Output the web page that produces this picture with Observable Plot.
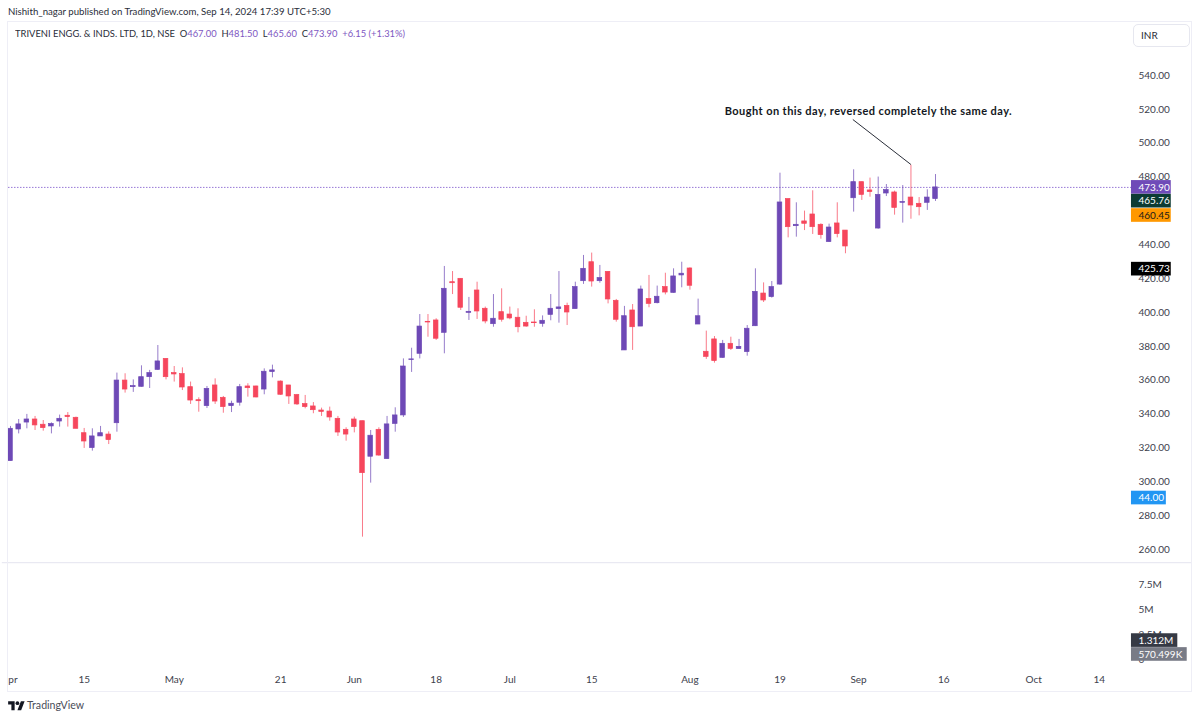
<!DOCTYPE html>
<html><head><meta charset="utf-8">
<script src="https://cdn.jsdelivr.net/npm/d3@7"></script>
<script src="https://cdn.jsdelivr.net/npm/@observablehq/plot@0.6"></script>
<style>
html,body{margin:0;padding:0;background:#fff;width:1200px;height:719px;overflow:hidden;font-family:Lato,sans-serif;color:#2a2e39}
#head{height:22px;line-height:22px;padding-left:8px;font-size:10.4px;box-sizing:border-box;white-space:nowrap;color:#2a2e39}
#head span{display:inline-block;transform:scaleX(.926);transform-origin:left center}
#chart{height:668px;position:relative}
#chart svg{display:block}
#box{position:absolute;left:7px;top:21px;width:1183px;height:669px;border:1.5px solid #eeeef6;box-sizing:content-box;pointer-events:none}
#legend{position:absolute;left:15px;top:27px;font-size:10.2px;line-height:12px;white-space:nowrap;color:#2a2e39;transform:scaleX(.92);transform-origin:left center}
#legend b{font-weight:400;color:#7e57c2}
#inr{position:absolute;left:1133px;top:24px;height:21px;border:1px solid #e6e7ef;border-radius:5px;font-size:10px;line-height:21px;padding-left:7px;box-sizing:content-box;width:48px}
#foot{position:absolute;left:8px;top:697px;height:16px;display:flex;align-items:center;font-size:10.6px;color:#4a4e5a;gap:2px}
</style></head><body>
<div id="head"><span>Nishith_nagar published on TradingView.com, Sep 14, 2024 17:39 UTC+5:30</span></div>
<div id="chart"></div>
<div id="box"></div>
<div id="legend">TRIVENI ENGG. &amp; INDS. LTD, 1D, NSE&nbsp; O<b>467.00</b>&nbsp; H<b>481.50</b>&nbsp; L<b>465.60</b>&nbsp; C<b>473.90</b>&nbsp; <b>+6.15 (+1.31%)</b></div>
<div id="inr">INR</div>
<div id="foot"><svg width="17" height="13" viewBox="0 0 36 28"><path fill="#131722" d="M14 24H7V12H0V5h14v19zM28 24h-8l7.5-19h8L28 24z"/><circle fill="#131722" cx="20" cy="9" r="4"/></svg><span>TradingView</span></div>
<script>
const opens=[312.2,330.9,335.0,336.8,333.7,332.7,335.6,339.0,337.8,328.7,319.9,326.8,327.9,334.6,359.8,355.9,356.1,361.8,366.1,372.6,364.2,363.6,355.9,348.2,344.7,356.9,349.6,344.7,346.7,356.3,356.3,354.5,364.8,359.2,356.9,351.2,345.9,344.5,342.1,341.5,337.2,330.7,336.8,335.8,314.8,330.7,313.4,334.2,339.2,371.9,375.6,394.5,395.3,388.0,417.9,419.9,399.8,413.0,402.2,393.1,400.2,398.8,396.9,393.9,394.1,393.3,398.6,402.0,403.9,402.0,418.5,429.7,418.5,424.0,406.9,377.6,401.2,391.7,407.9,405.5,415.0,411.6,421.9,426.0,392.9,376.8,384.1,373.2,381.5,378.4,376.6,391.9,411.2,409.1,416.5,467.0,451.0,453.8,457.9,451.8,441.6,452.6,448.4,467.5,477.0,472.1,449.6,470.3,470.9,464.8,467.9,464.2,464.8,467.0];
const highs=[332.7,336.8,339.8,338.6,336.2,334.8,339.4,340.9,338.2,331.5,331.3,332.7,329.5,364.2,363.8,360.2,368.5,365.8,380.5,372.6,368.1,367.3,358.9,349.6,356.3,360.8,350.4,347.6,357.5,357.9,356.5,366.7,368.9,359.6,356.9,351.6,351.0,346.8,343.5,344.1,338.6,331.9,338.2,335.8,330.3,331.9,338.6,343.7,372.6,378.9,398.8,398.8,396.3,427.2,424.2,419.9,408.9,417.9,403.2,410.6,414.0,403.2,402.2,397.8,401.6,398.0,410.6,424.2,405.5,417.9,433.7,435.1,427.8,424.2,407.7,403.6,404.7,415.6,421.9,415.6,423.2,425.8,429.7,426.4,407.9,389.0,385.8,383.5,385.4,384.1,392.3,425.8,417.5,418.3,482.3,467.0,464.8,459.9,471.9,452.4,452.2,464.8,448.4,484.3,477.0,479.4,480.0,475.6,471.7,475.0,487.0,467.9,472.5,481.5];
const lows=[312.2,328.3,331.3,330.3,329.9,328.3,332.3,332.3,331.3,319.7,318.1,326.8,322.0,329.3,352.4,352.8,355.9,355.1,365.8,360.2,358.9,353.9,345.7,341.1,343.3,345.7,340.5,340.9,344.7,350.0,349.6,351.4,361.4,351.0,345.7,345.1,343.1,340.2,338.6,335.8,326.8,324.0,328.9,267.3,299.2,315.1,313.4,329.3,338.0,364.6,372.6,385.4,383.5,375.6,410.6,401.2,395.3,395.9,393.3,391.3,394.3,395.7,388.0,391.3,391.3,391.3,395.1,393.7,392.3,402.0,416.6,415.0,417.3,405.1,394.3,377.6,377.6,391.7,402.8,405.1,410.4,411.4,414.6,413.2,392.9,372.3,370.1,373.0,377.6,378.4,374.2,391.7,405.9,408.5,416.0,444.1,444.5,448.4,446.1,443.3,441.4,444.1,434.7,459.3,466.2,468.1,449.2,468.5,457.5,452.8,455.1,457.1,460.3,465.6];
const closes=[331.3,333.9,336.8,333.3,331.7,334.1,337.2,338.2,331.3,323.8,326.8,328.7,324.6,359.8,354.5,356.5,361.8,364.2,371.1,361.8,363.4,355.7,348.0,347.6,354.9,347.4,344.1,346.1,355.9,355.3,349.8,365.0,365.8,351.4,350.4,345.7,344.1,342.3,341.3,338.0,329.1,327.9,332.3,305.1,327.2,315.5,333.9,339.2,368.1,372.3,391.7,394.1,384.5,414.0,417.3,402.8,400.4,400.6,394.7,396.3,395.7,396.5,391.3,391.7,393.7,395.1,402.2,403.0,400.0,415.0,425.8,418.3,420.3,407.7,395.7,397.8,391.3,413.6,405.1,409.3,411.8,421.3,422.9,415.8,397.8,373.8,371.3,381.5,378.5,379.7,390.4,412.2,407.1,415.0,465.0,450.4,451.8,452.4,450.4,445.7,450.2,446.3,439.0,477.0,469.5,471.1,469.5,472.3,461.8,465.2,463.2,462.2,467.9,473.9];

const priceTicks=[260,280,300,320,340,360,380,400,420,440,480,500,520,540];
const volumeTicks=[0,2500000,5000000,7500000];
const volumeTickText=["0","2.5M","5M","7.5M"];
const timeTicks=[0.3,9,20,33,42,52,61,71,83,94,103.6,114,125,133];
const timeTickText=["pr","15","May","21","Jun","18","Jul","15","Aug","19","Sep","16","Oct","14"];

const tagText=["473.90","465.76","460.45","425.73","44.00","1.312M","570.499K"];
const tagCentre=[473.9,465.76,457.3,425.6,290.4,206.2,198.0];
const tagEnd=[141.8,141.8,141.8,141.8,141.2,142.6,143.75];
const tagFill=["#6f4bb8","#0c3b33","#ff9800","#000000","#2196f3","#363a45","#787b86"];
const tagInk=["#fff","#fff","#1a1a1a","#fff","#fff","#fff","#fff"];

const note=["Bought on this day, reversed completely the same day."];
const volToPrice=v=>194.7+v*5.92e-6;

const days=d3.range(opens.length);
const up="#6e49b6", down="#f6465c";
const col=i=>closes[i]>=opens[i]?up:down;
const axisInk="#3d414d", font='Lato,sans-serif';

const chart=Plot.plot({
  width:1200,height:668,marginLeft:8,marginRight:69,marginTop:0,marginBottom:22,
  style:{background:"transparent",fontFamily:font,fontSize:"10px",overflow:"visible"},
  x:{domain:[0,113],range:[10,935],label:null},
  y:{domain:[260,540],range:[527,53],label:null},
  marks:[
    Plot.ruleY([252.3],{x1:-1,x2:144.4,stroke:"#e9e9f2",strokeWidth:1.3}),
    Plot.ruleY([473.9],{stroke:"#8560cf",strokeWidth:1,strokeDasharray:"1.5,1.5",strokeOpacity:.85}),
    Plot.axisY(priceTicks,{anchor:"right",tickSize:0,tickPadding:7,tickFormat:d3.format(".2f"),fill:axisInk,label:null,fontSize:10}),
    Plot.axisX(timeTicks,{anchor:"bottom",tickSize:0,tickPadding:7,tickFormat:d=>timeTickText[timeTicks.indexOf(d)],fill:axisInk,label:null,fontSize:10}),
    Plot.text(volumeTicks,{x:()=>137.8,y:volToPrice,text:(d,i)=>volumeTickText[i],textAnchor:"start",fill:axisInk,fontSize:10}),
    Plot.ruleX(days,{x:i=>i,y1:i=>lows[i],y2:i=>highs[i],stroke:col,strokeWidth:1,strokeOpacity:.72,clip:true}),
    Plot.rect(days,{x1:i=>i-0.28,x2:i=>i+0.28,y1:i=>opens[i],y2:i=>closes[i],fill:col,stroke:col,strokeWidth:.7,clip:true}),
    Plot.rect(tagText,{x1:()=>136.94,x2:(d,i)=>tagEnd[i],y1:(d,i)=>tagCentre[i]-4.03,y2:(d,i)=>tagCentre[i]+4.03,fill:(d,i)=>tagFill[i]}),
    Plot.text(tagText,{x:()=>137.8,y:(d,i)=>tagCentre[i],text:d=>d,textAnchor:"start",fill:(d,i)=>tagInk[i],fontSize:10}),
    Plot.link(note,{x1:()=>102.9,y1:()=>514,x2:()=>110,y2:()=>487.4,stroke:"#2a2e39",strokeWidth:1}),
    Plot.text(note,{x:()=>104.8,y:()=>518.7,text:d=>d,fill:"#131722",fontWeight:"bold",fontSize:11})
  ]
});
for(const t of chart.querySelectorAll("text")) if(t.textContent===note[0]) t.style.letterSpacing="0.43px";
document.getElementById("chart").append(chart);
</script>
</body></html>
